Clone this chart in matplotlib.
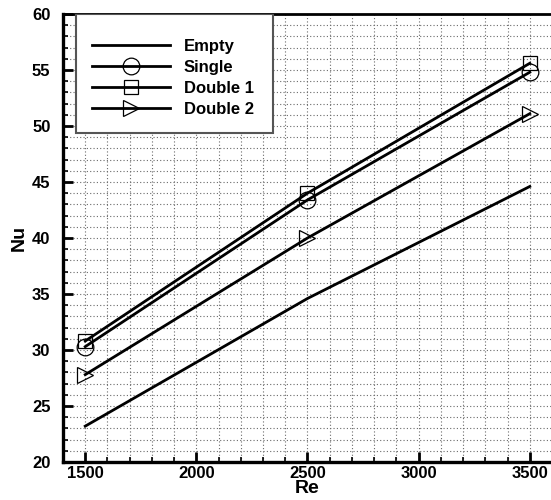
import numpy as np
import matplotlib
matplotlib.use("Agg")
import matplotlib.pyplot as plt
from matplotlib.ticker import MultipleLocator
from matplotlib.patches import Rectangle

plt.rcParams['font.family'] = ['Liberation Sans', 'DejaVu Sans']
plt.rcParams['font.weight'] = 'bold'

# data
re_vals = [1500, 2500, 3500]
nu_empty = [23.2, 34.6, 44.6]
nu_single = [30.3, 43.4, 54.8]
nu_double1 = [30.8, 44.0, 55.6]
nu_double2 = [27.8, 40.0, 51.1]

W, H = 551, 500
x0, y0, x1, y1 = 63, 462, 552, 14   # axes box in pixels
fig = plt.figure(figsize=(W / 100, H / 100), dpi=100)
ax = fig.add_axes([x0 / W, (H - y0) / H, (x1 - x0) / W, (y0 - y1) / H])

lw = 2.0
ax.plot(re_vals, nu_empty, color='black', lw=lw, label='Empty')
ax.plot(re_vals, nu_single, color='black', lw=lw, marker='o', ms=12,
        mfc='none', mec='black', mew=0.9, label='Single')
ax.plot(re_vals, nu_double1, color='black', lw=lw, marker='s', ms=10,
        mfc='none', mec='black', mew=0.9, label='Double 1')
ax.plot(re_vals, nu_double2, color='black', lw=lw, marker='>', ms=11,
        mfc='none', mec='black', mew=0.9, label='Double 2')

ax.set_xlim(1400, 3600)
ax.set_ylim(20, 60)
ax.xaxis.set_major_locator(MultipleLocator(500))
ax.xaxis.set_minor_locator(MultipleLocator(100))
ax.yaxis.set_major_locator(MultipleLocator(5))
ax.yaxis.set_minor_locator(MultipleLocator(1))

ax.grid(which='both', color='#6a6a6a', linestyle=(0, (1, 2)), linewidth=0.8)
ax.set_axisbelow(True)

ax.tick_params(which='major', direction='in', length=7, width=2,
               labelsize=12)
ax.tick_params(axis='x', which='major', pad=3)
ax.tick_params(axis='y', which='major', pad=9)
ax.tick_params(which='minor', direction='in', length=3.6, width=1.2)
for lab in ax.get_xticklabels() + ax.get_yticklabels():
    lab.set_fontweight('bold')

for side in ['left', 'bottom']:
    ax.spines[side].set_linewidth(2.4)
for side in ['top', 'right']:
    ax.spines[side].set_linewidth(2.0)

ax.set_xlabel('Re', fontsize=14, fontweight='bold', labelpad=-1)
ax.set_ylabel('Nu', fontsize=14, fontweight='bold', labelpad=3)

# legend box drawn as its own rectangle
def px_to_ax(px, py):
    return (px - x0) / (x1 - x0), (y0 - py) / (y0 - y1)

bx0, by0 = px_to_ax(76, 133)
bx1, by1 = px_to_ax(273, 14)
ax.add_patch(Rectangle((bx0, by0), bx1 - bx0, by1 - by0, transform=ax.transAxes,
                       facecolor='white', edgecolor='#555555', linewidth=1.5,
                       zorder=4))

lx, ly = px_to_ax(92, 39)
leg = ax.legend(loc='upper left', bbox_to_anchor=(lx, ly),
                numpoints=1, handlelength=4.7, handletextpad=0.8,
                fontsize=12, frameon=False,
                borderpad=0, labelspacing=0.35, borderaxespad=0)
leg.set_zorder(5)
for t in leg.get_texts():
    t.set_fontweight('bold')

fig.savefig('out.png', dpi=100)
